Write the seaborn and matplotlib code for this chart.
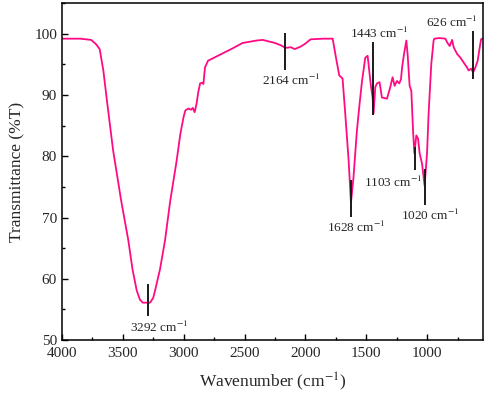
import matplotlib
matplotlib.use("Agg")
import matplotlib.pyplot as plt
import seaborn as sns
import pandas as pd
from matplotlib.ticker import MultipleLocator

# FTIR spectrum
wavenumber = [4000, 3850, 3760, 3720, 3690, 3660, 3630, 3580, 3514, 3455,
              3420, 3386, 3360, 3336, 3276, 3250, 3235, 3195, 3153, 3110,
              3060, 3027, 3000, 2986, 2960, 2940, 2925, 2910, 2895, 2880,
              2865, 2850, 2838, 2825, 2800, 2700, 2600, 2516, 2400, 2351,
              2250, 2200, 2164, 2120, 2088, 2040, 2000, 1970, 1956, 1850,
              1776, 1749, 1722, 1695, 1673, 1645, 1626, 1605, 1577, 1555,
              1535, 1508, 1489, 1461, 1448, 1440, 1426, 1412, 1391, 1372,
              1330, 1303, 1284, 1267, 1248, 1229, 1215, 1206, 1190, 1171,
              1160, 1144, 1130, 1116, 1105, 1089, 1075, 1062, 1042, 1021,
              1001, 988, 966, 947, 941, 900, 850, 836, 815, 795,
              782, 754, 727, 700, 672, 659, 639, 622, 604, 585,
              568, 557, 545]
transmittance = [99.2, 99.2, 99.0, 98.3, 97.5, 94.0, 89.0, 81.0, 72.8, 66.3,
                 61.5, 58.1, 56.6, 56.1, 56.1, 56.9, 58.1, 61.5, 66.3, 72.8,
                 79.0, 83.7, 86.5, 87.5, 87.8, 87.6, 87.9, 87.2, 88.5, 90.5,
                 91.9, 92.0, 91.8, 94.5, 95.6, 96.6, 97.6, 98.5, 98.9, 99.0,
                 98.5, 98.1, 97.7, 97.8, 97.5, 97.9, 98.4, 98.9, 99.1, 99.2,
                 99.2, 96.1, 93.2, 92.7, 87.0, 79.3, 72.4, 76.6, 84.2, 88.6,
                 92.3, 96.1, 96.4, 91.3, 89.6, 87.0, 91.3, 91.9, 92.1, 89.6,
                 89.4, 91.3, 92.9, 91.5, 92.3, 91.9, 92.6, 94.5, 96.7, 98.9,
                 96.5, 91.5, 90.7, 84.2, 80.5, 83.4, 82.9, 80.5, 78.8, 75.2,
                 80.5, 87.0, 95.1, 98.9, 99.2, 99.3, 99.2, 98.6, 98.0, 99.0,
                 97.8, 96.7, 96.1, 95.3, 94.5, 94.0, 94.3, 93.7, 94.5, 95.6,
                 97.8, 99.1, 99.2]

# peak markers: position, line bottom/top, label position
peak_wn = [3292, 2164, 1628, 1443, 1103, 1020, 626]
peak_lo = [53.9, 94.1, 70.1, 86.8, 77.7, 72.0, 92.6]
peak_hi = [59.2, 100.2, 76.2, 98.6, 81.5, 78.0, 100.5]
label_x = [3202, 2117, 1582, 1396, 1282, 976, 801]
label_y = [52.0, 92.3, 68.4, 100.1, 75.8, 70.4, 101.8]

df = pd.DataFrame({"wn": wavenumber, "T": transmittance})

sns.set_style("ticks")
plt.rcParams["font.family"] = ["Liberation Serif", "DejaVu Serif"]
plt.rcParams["mathtext.fontset"] = "stix"

fig = plt.figure(figsize=(4.84, 3.94), dpi=100)
ax = fig.add_axes([0.128, 0.137, 0.869, 0.855])

sns.lineplot(data=df, x="wn", y="T", ax=ax, color="#ff0a84",
             linewidth=1.3, estimator=None)

ax.vlines(peak_wn, peak_lo, peak_hi, color="#1a1a1a", linewidth=1.4)
for wn, lx, ly in zip(peak_wn, label_x, label_y):
    ax.text(lx, ly, f"{wn} cm$^{{-1}}$", ha="center", va="center", fontsize=9.5)

ax.set_xlim(4000, 545)
ax.set_ylim(50, 105)
ax.xaxis.set_major_locator(MultipleLocator(500))
ax.xaxis.set_minor_locator(MultipleLocator(250))
ax.yaxis.set_major_locator(MultipleLocator(10))
ax.yaxis.set_minor_locator(MultipleLocator(5))
ax.set_yticks([50, 60, 70, 80, 90, 100])
ax.tick_params(which="both", direction="in", labelsize=11, color="black")
ax.tick_params(which="major", length=4.5, width=1)
ax.tick_params(which="minor", length=2.5, width=1)
ax.tick_params(axis="x", pad=5)
for s in ax.spines.values():
    s.set_linewidth(1.1)
    s.set_color("black")

ax.set_xlabel("Wavenumber (cm$^{-1}$)", fontsize=12.5, labelpad=8)
ax.set_ylabel("Transmittance (%T)", fontsize=12.5, labelpad=6)

fig.savefig("out.png", dpi=100)
